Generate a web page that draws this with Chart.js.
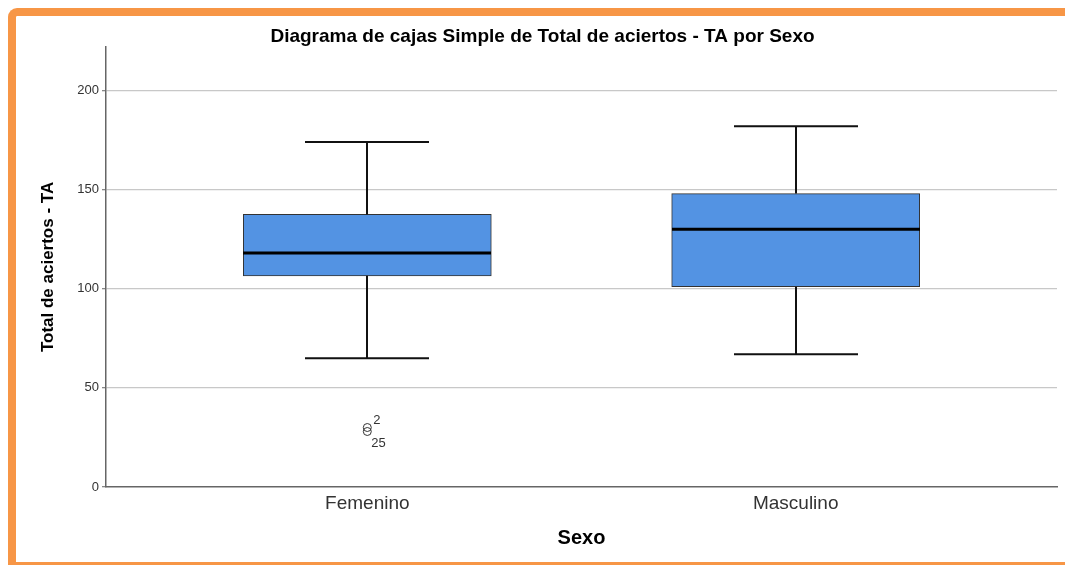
<!DOCTYPE html>
<html>
<head>
<meta charset="utf-8">
<script src="https://cdn.jsdelivr.net/npm/chart.js@4/dist/chart.umd.min.js"></script>
<style>
  html, body { margin: 0; padding: 0; background: #fff; overflow: hidden; }
  #frame {
    position: absolute; left: 8px; top: 8px; width: 1080px; height: 546px;
    border-top: 8px solid #F79646; border-left: 8px solid #F79646; border-bottom: 3px solid #F79646;
    border-top-left-radius: 9px; background: #fff;
  }
  #wrap { position: absolute; left: 0; top: 0; width: 1065px; height: 565px; }
</style>
</head>
<body>
<div id="frame"></div>
<div id="wrap"><canvas id="boxChart" width="1065" height="565"></canvas></div>
<script>
// Datos del diagrama de cajas
const categories = ['Femenino', 'Masculino'];
const whiskerLow = [65, 67];
const q1 = [106.5, 101];
const median = [118, 130];
const q3 = [137.5, 148];
const whiskerHigh = [174, 182];
const outlierGroup = [0, 0];
const outlierValues = [30, 28];
const outlierCases = ['2', '25'];
const yTicks = [0, 50, 100, 150, 200];

const boxFill = '#5393E3';
const lineDark = '#111111';
const fontFamily = '"Liberation Sans", Arial, sans-serif';

// Whiskers, median and outlier labels
const boxExtras = {
    id: 'boxExtras',
    afterDatasetsDraw(chart) {
        const { ctx, scales: { x, y } } = chart;
        const cap = 62;
        const half = 124;
        ctx.save();
        categories.forEach((c, i) => {
            const cx = Math.round(x.getPixelForValue(i + 1));
            ctx.strokeStyle = lineDark;
            ctx.lineWidth = 2;
            ctx.beginPath();
            ctx.moveTo(cx, y.getPixelForValue(q3[i]));
            ctx.lineTo(cx, y.getPixelForValue(whiskerHigh[i]));
            ctx.moveTo(cx - cap, y.getPixelForValue(whiskerHigh[i]));
            ctx.lineTo(cx + cap, y.getPixelForValue(whiskerHigh[i]));
            ctx.moveTo(cx, y.getPixelForValue(q1[i]));
            ctx.lineTo(cx, y.getPixelForValue(whiskerLow[i]));
            ctx.moveTo(cx - cap, y.getPixelForValue(whiskerLow[i]));
            ctx.lineTo(cx + cap, y.getPixelForValue(whiskerLow[i]));
            ctx.stroke();

            ctx.strokeStyle = '#000';
            ctx.lineWidth = 3;
            ctx.beginPath();
            ctx.moveTo(cx - half, y.getPixelForValue(median[i]));
            ctx.lineTo(cx + half, y.getPixelForValue(median[i]));
            ctx.stroke();
        });

        // case numbers next to outliers
        ctx.fillStyle = '#333';
        ctx.font = '13px ' + fontFamily;
        ctx.textAlign = 'left';
        ctx.textBaseline = 'middle';
        outlierValues.forEach((v, k) => {
            const px = x.getPixelForValue(outlierGroup[k] + 1);
            const py = y.getPixelForValue(v);
            if (k === 0) ctx.fillText(outlierCases[k], px + 6, py - 7);
            else ctx.fillText(outlierCases[k], px + 4, py + 12);
        });
        ctx.restore();
    }
};

new Chart(document.getElementById('boxChart'), {
    type: 'bar',
    data: {
        datasets: [{
            type: 'bar',
            data: categories.map((c, i) => ({ x: i + 1, y: [q1[i], q3[i]] })),
            backgroundColor: boxFill,
            borderColor: '#333',
            borderWidth: 1,
            borderSkipped: false,
            barThickness: 248
        }, {
            type: 'scatter',
            data: outlierValues.map((v, k) => ({ x: outlierGroup[k] + 1, y: v })),
            pointStyle: 'circle',
            pointRadius: 4,
            backgroundColor: 'rgba(0,0,0,0)',
            borderColor: '#333',
            borderWidth: 1
        }]
    },
    options: {
        responsive: false,
        animation: false,
        layout: { padding: { left: 28, right: 8, top: 0, bottom: 0 } },
        plugins: {
            legend: { display: false },
            tooltip: { enabled: false },
            title: {
                display: true,
                text: 'Diagrama de cajas Simple de Total de aciertos - TA por Sexo',
                color: '#000',
                font: { family: fontFamily, size: 19, weight: 'bold', lineHeight: 1.1 },
                padding: { top: 26, bottom: 0 }
            }
        },
        scales: {
            x: {
                type: 'linear',
                offset: false,
                min: 0.39,
                max: 2.61,
                afterBuildTicks: s => { s.ticks = categories.map((c, i) => ({ value: i + 1 })); },
                afterFit: s => { s.height = 78; },
                ticks: {
                    callback: v => categories[v - 1],
                    color: '#333',
                    padding: 5,
                    font: { family: fontFamily, size: 19 }
                },
                grid: { display: false, drawTicks: false, offset: false },
                border: { color: '#666', width: 1.5 },
                title: {
                    display: true,
                    text: 'Sexo',
                    color: '#000',
                    font: { family: fontFamily, size: 20, weight: 'bold' },
                    padding: { bottom: 15 }
                }
            },
            y: {
                min: 0,
                max: 222,
                afterBuildTicks: s => { s.ticks = yTicks.map(v => ({ value: v })); },
                afterFit: s => { s.width = 78; },
                ticks: {
                    color: '#333',
                    padding: 3,
                    font: { family: fontFamily, size: 13 }
                },
                grid: {
                    color: ctx => ctx.tick && ctx.tick.value === 0 ? 'rgba(0,0,0,0)' : '#c8c8c8',
                    tickColor: '#888',
                    tickLength: 4,
                    lineWidth: 1.3
                },
                border: { color: '#666', width: 1.5 },
                title: {
                    display: true,
                    text: 'Total de aciertos - TA',
                    color: '#000',
                    font: { family: fontFamily, size: 17, weight: 'bold' },
                    padding: { top: 10 }
                }
            }
        }
    },
    plugins: [boxExtras]
});
</script>
</body>
</html>
